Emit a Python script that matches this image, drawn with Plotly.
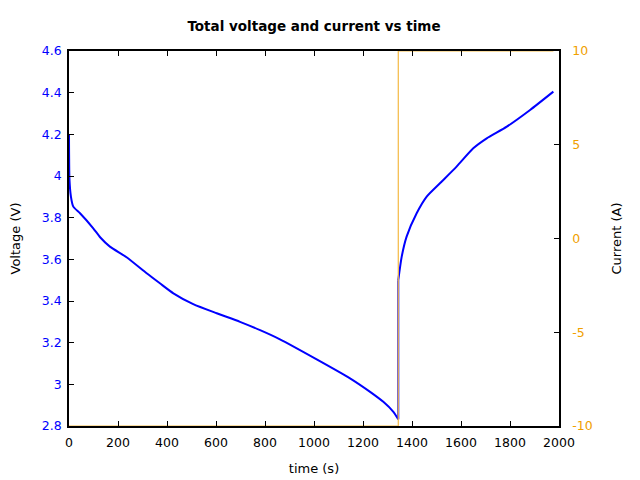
import plotly.graph_objects as go

# voltage trace
time_v = [0, 2, 8, 17.6, 45, 99, 127, 167, 235, 317, 371, 426, 507, 603, 698,
          780, 861, 1011, 1147, 1229, 1283, 1324, 1344,
          1344, 1358, 1378, 1419, 1460, 1514, 1582, 1650, 1705, 1787, 1882, 1977]
voltage = [4.2, 3.98, 3.9, 3.853, 3.821, 3.749, 3.706, 3.661, 3.610, 3.533, 3.485,
           3.437, 3.385, 3.341, 3.300, 3.260, 3.216, 3.120, 3.029, 2.964, 2.916,
           2.868, 2.832,
           3.50, 3.613, 3.709, 3.821, 3.901, 3.965, 4.045, 4.133, 4.181, 4.237,
           4.317, 4.405]
jump = 23  # index where the charge phase starts

# current trace
time_i = [0, 1344, 1344, 1977]
current = [-10, -10, 10, 10]

current_ticks = [-10, -5, 0, 5, 10]
current_labels = ['-10', '-5', '0', '5', '10']

FONT = "DejaVu Sans"
BLUE = "#0000ff"
ORANGE = "#f0a000"

fig = go.Figure()
fig.add_trace(go.Scatter(x=time_i, y=current, mode='lines', yaxis='y2',
                         line=dict(color='#f4b942', width=1.2), showlegend=False))
# discharge and charge drawn smooth, joined by the vertical step
fig.add_trace(go.Scatter(x=time_v[:jump], y=voltage[:jump], mode='lines',
                         line=dict(color=BLUE, width=2, shape='spline', smoothing=0.6),
                         showlegend=False))
fig.add_trace(go.Scatter(x=time_v[jump - 1:jump + 1], y=voltage[jump - 1:jump + 1],
                         mode='lines', line=dict(color=BLUE, width=2), showlegend=False))
fig.add_trace(go.Scatter(x=time_v[jump:], y=voltage[jump:], mode='lines',
                         line=dict(color=BLUE, width=2, shape='spline', smoothing=0.6),
                         showlegend=False))

# the page body adds an 8px offset, margins compensate for it
fig.update_layout(
    width=640, height=480,
    margin=dict(l=61, r=89, t=43, b=62),
    paper_bgcolor='white', plot_bgcolor='white',
    font=dict(family=FONT, size=12.5, color='black'),
    title=dict(text='<b>Total voltage and current vs time</b>', x=0.5, xref='paper',
               y=0.9625, xanchor='center', yanchor='middle', font=dict(size=13.5)),
    xaxis=dict(range=[0, 2000], dtick=200, tick0=0, showgrid=False, zeroline=False,
               showline=True, linecolor='black', linewidth=1.5, mirror='ticks',
               ticks='inside', ticklen=5, tickcolor='black', automargin=False,
               ticklabelstandoff=4,
               title=dict(text='time (s)', standoff=15, font=dict(size=13))),
    yaxis=dict(range=[2.8, 4.6], dtick=0.2, tick0=2.8, showgrid=False, zeroline=False,
               showline=True, linecolor='black', linewidth=1.5,
               ticks='inside', ticklen=5, tickcolor='black', automargin=False,
               ticklabelstandoff=3,
               tickfont=dict(color=BLUE), tickformat='~g',
               title=dict(text='Voltage (V)', standoff=21, font=dict(size=13))),
    yaxis2=dict(range=[-10, 10], tickvals=current_ticks, ticktext=current_labels,
                overlaying='y', side='right',
                showgrid=False, zeroline=False,
                showline=True, linecolor='black', linewidth=1.5,
                ticks='inside', ticklen=5, tickcolor='black', automargin=False,
                ticklabelstandoff=9,
                tickfont=dict(color=ORANGE),
                title=dict(text='Current (A)', standoff=20, font=dict(size=13))),
)

fig.write_html("out.html")
